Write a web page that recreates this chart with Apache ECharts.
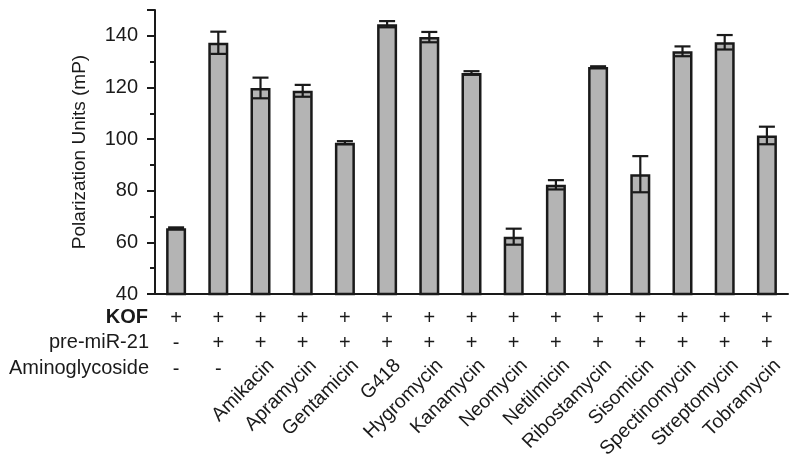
<!DOCTYPE html>
<html>
<head>
<meta charset="utf-8">
<script src="https://cdn.jsdelivr.net/npm/echarts@6/dist/echarts.min.js"></script>
<style>
  html, body { margin: 0; padding: 0; background: #fff; }
  #chart { width: 800px; height: 455px; }
</style>
</head>
<body>
<div id="chart"></div>
<script>
// rows of the table under the bars
var kofRow = ['+', '+', '+', '+', '+', '+', '+', '+', '+', '+', '+', '+', '+', '+', '+']
var mirRow = ['-', '+', '+', '+', '+', '+', '+', '+', '+', '+', '+', '+', '+', '+', '+']
var aminoDash = ['-', '-', '', '', '', '', '', '', '', '', '', '', '', '', '']
var aminoNames = ['', '', 'Amikacin', 'Apramycin', 'Gentamicin', 'G418', 'Hygromycin', 'Kanamycin',
    'Neomycin', 'Netilmicin', 'Ribostamycin', 'Sisomicin', 'Spectinomycin', 'Streptomycin', 'Tobramycin']

// polarization (mP) and error
var values = [65.5, 137.3, 119.8, 118.7, 98.6, 144.5, 139.5, 125.6, 62.2, 82.3, 127.9, 86.4, 134.0, 137.5, 101.4]
var errors = [0.3, 4.3, 4.0, 2.3, 0.6, 1.2, 2.0, 0.7, 3.1, 1.8, 0.3, 7.0, 1.9, 2.8, 3.4]

var yTicks = { min: 40, max: 150, interval: 20 }

var FONT = "'Liberation Sans', Arial, sans-serif"
var INK = '#1a1a1a'

var errData = values.map(function (v, i) {
    return [i, v - errors[i], v + errors[i]]
})

// one hidden axis per table row
function rowAxis(data, offset, extra) {
    var ax = {
        type: 'category',
        data: data,
        position: 'bottom',
        offset: offset,
        axisLine: { show: false },
        axisTick: { show: false },
        axisLabel: {
            interval: 0,
            margin: 14,
            color: INK,
            fontFamily: FONT,
            fontSize: 20
        }
    }
    if (extra) Object.assign(ax.axisLabel, extra)
    return ax
}

var myChart = echarts.init(document.getElementById('chart'))
myChart.setOption({
    animation: false,
    grid: {
        left: 155,
        right: 12,
        top: 10,
        bottom: 161,
        outerBoundsMode: 'none'
    },
    xAxis: [
        {
            type: 'category',
            data: kofRow,
            position: 'bottom',
            axisLine: { lineStyle: { color: INK, width: 2 } },
            axisTick: { alignWithLabel: true, length: 7, lineStyle: { color: INK, width: 2 } },
            axisLabel: { interval: 0, margin: 14, color: INK, fontFamily: FONT, fontSize: 20 }
        },
        rowAxis(mirRow, 25),
        rowAxis(aminoDash, 51),
        rowAxis(aminoNames, 51, { rotate: 45, margin: 7, fontSize: 19.5, verticalAlign: 'top', padding: [5, 0, 0, 0] })
    ],
    yAxis: {
        type: 'value',
        min: yTicks.min,
        max: yTicks.max,
        interval: yTicks.interval,
        name: 'Polarization Units (mP)',
        nameLocation: 'middle',
        nameGap: 66,
        nameTextStyle: { color: INK, fontFamily: FONT, fontSize: 19 },
        axisLine: { show: true, lineStyle: { color: INK, width: 2 } },
        axisTick: { show: true, length: 8, lineStyle: { color: INK, width: 2 } },
        minorTick: { show: true, splitNumber: 2, length: 5, lineStyle: { color: INK, width: 2 } },
        axisLabel: { showMaxLabel: false, margin: 17, color: INK, fontFamily: FONT, fontSize: 20 },
        splitLine: { show: false }
    },
    graphic: [
        { type: 'text', right: 800 - 148, top: 307, style: { text: 'KOF', font: 'bold 20px ' + FONT, fill: INK } },
        { type: 'text', right: 800 - 149, top: 332, style: { text: 'pre-miR-21', font: '20px ' + FONT, fill: INK } },
        { type: 'text', right: 800 - 149, top: 358, style: { text: 'Aminoglycoside', font: '20px ' + FONT, fill: INK } }
    ],
    series: [
        {
            type: 'bar',
            data: values,
            barWidth: 20,
            itemStyle: { color: '#b4b4b4', borderColor: INK, borderWidth: 2.5 }
        },
        {
            type: 'custom',
            data: errData,
            z: 5,
            renderItem: function (params, api) {
                var lo = api.coord([api.value(0), api.value(1)])
                var hi = api.coord([api.value(0), api.value(2)])
                var cap = 8
                var st = { stroke: INK, lineWidth: 2.2 }
                return {
                    type: 'group',
                    children: [
                        { type: 'line', shape: { x1: hi[0], y1: hi[1], x2: lo[0], y2: lo[1] }, style: st },
                        { type: 'line', shape: { x1: hi[0] - cap, y1: hi[1], x2: hi[0] + cap, y2: hi[1] }, style: st },
                        { type: 'line', shape: { x1: lo[0] - cap, y1: lo[1], x2: lo[0] + cap, y2: lo[1] }, style: st }
                    ]
                }
            }
        }
    ]
})
window.addEventListener('resize', function () {
    myChart.resize()
})
</script>
</body>
</html>
